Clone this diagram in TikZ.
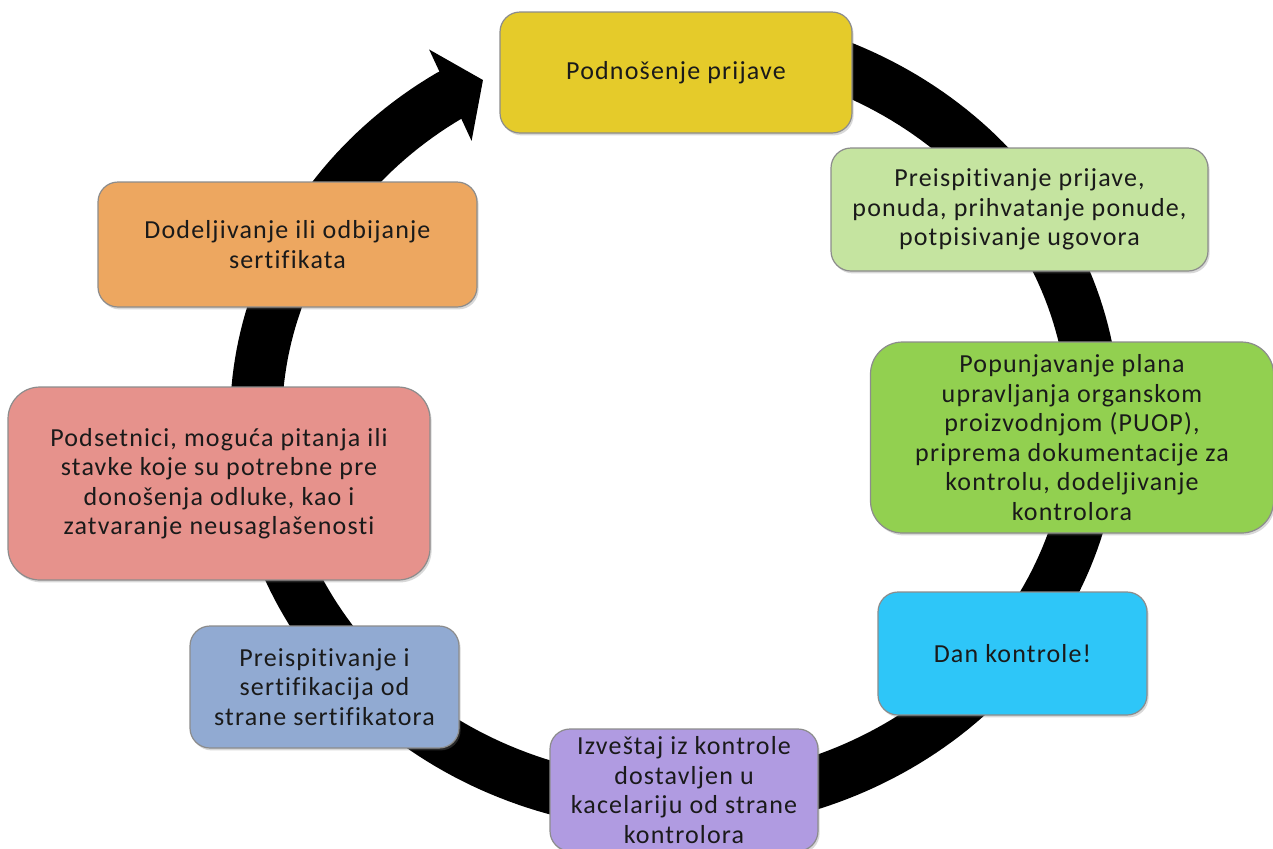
\documentclass[tikz,border=0pt]{standalone}
\usepackage{fontspec}
\setmainfont[Ligatures=NoCommon, LetterSpace=4.5]{Carlito}
\usepackage{xcolor}
\usetikzlibrary{arrows.meta,shadows}
\definecolor{fgtext}{HTML}{1A1A1A}
\definecolor{rim}{HTML}{8C8C8C}
\definecolor{yellowbox}{HTML}{E5CB2A}
\definecolor{limebox}{HTML}{C5E4A0}
\definecolor{greenbox}{HTML}{92D050}
\definecolor{cyanbox}{HTML}{2EC6F8}
\definecolor{purplebox}{HTML}{B09BE1}
\definecolor{bluebox}{HTML}{91AAD2}
\definecolor{pinkbox}{HTML}{E6928C}
\definecolor{orangebox}{HTML}{EDA760}
\tikzset{
  ring/.style={draw=black, line width=26pt},
  stepbox/.style={draw=rim, line width=0.6pt, align=center, inner sep=0pt,
    text=fgtext, font=\fontsize{13}{14.75}\selectfont,
    drop shadow={opacity=0.3, shadow xshift=0.8pt, shadow yshift=-1.2pt}},
  smallbox/.style={stepbox, rounded corners=10pt},
  bigbox/.style={stepbox, rounded corners=16pt}
}
\begin{document}
\begin{tikzpicture}[x=0.5pt, y=-0.5pt]
  % 1 unit = 1 px of the 1273 x 848 frame, y runs downwards
  \clip (0,0) rectangle (1273,848);
  \fill[white] (0,0) rectangle (1273,848);

  % the cycle ring, ending in the arrow head next to the first step
  \coordinate (tip) at (483,80);
  \draw[ring, {Triangle[length=18pt, width=49.5pt]}-] (tip) --
    plot[domain=-237.4:78, samples=240] ({675+419*cos(\x)}, {420-385*sin(\x)});

  % steps, clockwise from the top
  \node[smallbox, fill=yellowbox, minimum width=176pt, minimum height=60.5pt]
    (submit) at (676,72.5) {Podnošenje prijave};
  \node[smallbox, fill=limebox, minimum width=188.5pt, minimum height=61.5pt]
    (review) at (1019.5,209.5) {Preispitivanje prijave,\\ponuda, prihvatanje ponude,\\potpisivanje ugovora};
  \node[bigbox, fill=greenbox, minimum width=201.5pt, minimum height=95.5pt]
    (plan) at (1072,437.5) {Popunjavanje plana\\upravljanja organskom\\proizvodnjom (PUOP),\\priprema dokumentacije za\\kontrolu, dodeljivanje\\kontrolora};
  \node[smallbox, fill=cyanbox, minimum width=134.5pt, minimum height=61.5pt]
    (visit) at (1012.5,653.5) {Dan kontrole!};
  \node[smallbox, fill=purplebox, minimum width=134pt, minimum height=61pt]
    (report) at (684,790) {Izveštaj iz kontrole\\dostavljen u\\kacelariju od strane\\kontrolora};
  \node[smallbox, fill=bluebox, minimum width=134.5pt, minimum height=61pt]
    (certify) at (324.5,687) {Preispitivanje i\\sertifikacija od\\strane sertifikatora};
  \node[bigbox, fill=pinkbox, minimum width=211pt, minimum height=96.5pt]
    (reminders) at (219,483.5) {Podsetnici, moguća pitanja ili\\stavke koje su potrebne pre\\donošenja odluke, kao i\\zatvaranje neusaglašenosti};
  \node[smallbox, fill=orangebox, minimum width=189.5pt, minimum height=62.5pt]
    (decision) at (287.5,244.5) {Dodeljivanje ili odbijanje\\sertifikata};
\end{tikzpicture}
\end{document}
